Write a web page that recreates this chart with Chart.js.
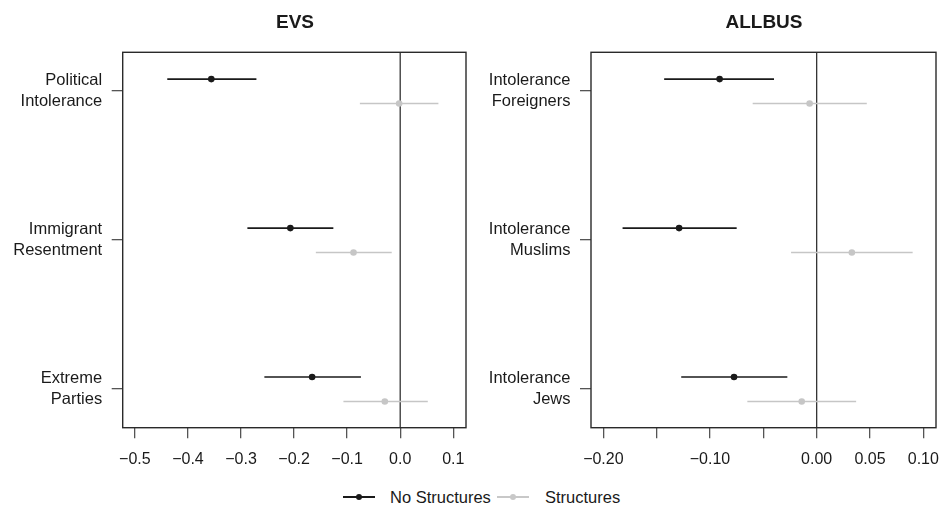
<!DOCTYPE html>
<html>
<head>
<meta charset="utf-8">
<script src="https://cdn.jsdelivr.net/npm/chart.js@4.4.1/dist/chart.umd.min.js"></script>
<style>
  body{margin:0;background:#fff;font-family:"Liberation Sans",Arial,sans-serif;}
  #wrap{position:relative;width:941px;height:510px;overflow:hidden;}
  .panel{position:absolute;top:0;height:480px;}
  .title{position:absolute;top:10px;height:24px;line-height:24px;font-weight:bold;font-size:19px;color:#1a1a1a;text-align:center;}
  #legend{position:absolute;top:486px;left:0;width:941px;height:22px;font-size:16.5px;color:#1a1a1a;}
  .key{position:absolute;top:10px;height:1.6px;width:32px;}
  .key i{position:absolute;left:13px;top:-2.4px;width:6.4px;height:6.4px;border-radius:50%;}
  .ktxt{position:absolute;top:0;line-height:22px;}
</style>
</head>
<body>
<div id="wrap">
  <div class="panel" style="left:0;width:470px;"><canvas id="evs"></canvas></div>
  <div class="panel" style="left:470px;width:471px;"><canvas id="allbus"></canvas></div>
  <div class="title" style="left:195px;width:200px;">EVS</div>
  <div class="title" style="left:664px;width:200px;">ALLBUS</div>
  <div id="legend">
    <div class="key" style="left:343px;background:#1a1a1a;"><i style="background:#1a1a1a;"></i></div>
    <div class="ktxt" style="left:390px;">No Structures</div>
    <div class="key" style="left:497px;background:#c8c8c8;"><i style="background:#c8c8c8;"></i></div>
    <div class="ktxt" style="left:545px;">Structures</div>
  </div>
</div>
<script>
// series names
const seriesNames = ["No Structures", "Structures"];

// EVS panel
const evsCats = [["Political","Intolerance"],["Immigrant","Resentment"],["Extreme","Parties"]];
const evsNoStruct   = [-0.356, -0.207, -0.166];
const evsNoStructLo = [-0.439, -0.288, -0.256];
const evsNoStructHi = [-0.271, -0.126, -0.074];
const evsStruct     = [-0.002, -0.088, -0.029];
const evsStructLo   = [-0.076, -0.159, -0.107];
const evsStructHi   = [ 0.072, -0.016,  0.052];
const evsTicks      = [-0.5, -0.4, -0.3, -0.2, -0.1, 0, 0.1];
const evsTickLabels = ["\u22120.5","\u22120.4","\u22120.3","\u22120.2","\u22120.1","0.0","0.1"];

// ALLBUS panel
const allbusCats = [["Intolerance","Foreigners"],["Intolerance","Muslims"],["Intolerance","Jews"]];
const allbusNoStruct   = [-0.091, -0.129, -0.0775];
const allbusNoStructLo = [-0.143, -0.182, -0.127];
const allbusNoStructHi = [-0.040, -0.075, -0.0275];
const allbusStruct     = [-0.0066, 0.033, -0.014];
const allbusStructLo   = [-0.060, -0.024, -0.065];
const allbusStructHi   = [ 0.047,  0.090,  0.037];
const allbusTicks      = [-0.2, -0.15, -0.1, -0.05, 0, 0.05, 0.1];
const allbusTickLabels = ["\u22120.20","","\u22120.10","","0.00","0.05","0.10"];

const BLACK = "#1a1a1a", GREY = "#c6c6c6";
const FONT = '"Liberation Sans", Arial, sans-serif';

// box round the plot and the zero line
const framePlugin = {
  id: "frame",
  beforeDatasetsDraw(chart){
    const {ctx, chartArea:a, scales} = chart;
    ctx.save();
    const x0 = scales.x.getPixelForValue(0);
    ctx.strokeStyle = "#333"; ctx.lineWidth = 1.3;
    ctx.beginPath(); ctx.moveTo(x0, a.top); ctx.lineTo(x0, a.bottom); ctx.stroke();
    ctx.strokeStyle = "#2a2a2a"; ctx.lineWidth = 1.4;
    ctx.strokeRect(a.left, a.top, a.right - a.left, a.bottom - a.top);
    ctx.restore();
  }
};

function makePanel(id, p){
  const n = p.cats.length;
  const pos = p.cats.map((c,i)=>n - i);
  const datasets = [];
  const ci = (lo, hi, off, col)=>lo.forEach((l,i)=>datasets.push({
    data:[{x:l, y:pos[i]+off},{x:hi[i], y:pos[i]+off}],
    showLine:true, borderColor:col, borderWidth:1.6, pointRadius:0, order:2
  }));
  ci(p.noLo, p.noHi, 0.08, BLACK);
  ci(p.stLo, p.stHi, -0.084, GREY);
  datasets.push({label:seriesNames[0], data:p.no.map((v,i)=>({x:v, y:pos[i]+0.08})),
    pointRadius:3.3, backgroundColor:BLACK, borderColor:BLACK, borderWidth:0, order:1});
  datasets.push({label:seriesNames[1], data:p.st.map((v,i)=>({x:v, y:pos[i]-0.084})),
    pointRadius:3.3, backgroundColor:GREY, borderColor:GREY, borderWidth:0, order:1});

  return new Chart(document.getElementById(id), {
    type:"scatter",
    data:{datasets},
    options:{
      responsive:true, maintainAspectRatio:false, animation:false,
      layout:{padding:{top:52.3, right:p.padRight, bottom:0, left:0}},
      plugins:{legend:{display:false}, tooltip:{enabled:false}},
      scales:{
        x:{
          min:p.xmin, max:p.xmax,
          afterBuildTicks:s=>{ s.ticks = p.ticks.map(v=>({value:v})); },
          afterFit:s=>{ s.height = 52.3; s.paddingLeft = 0; s.paddingRight = 0; },
          grid:{drawOnChartArea:false, drawTicks:true, tickLength:10.5, color:"#555", lineWidth:1.3},
          border:{display:false},
          ticks:{autoSkip:false, maxRotation:0, padding:12, color:"#1a1a1a",
            font:{family:FONT, size:16},
            callback:(v,i)=>p.tickLabels[i]}
        },
        y:{
          min:0.74, max:3.26,
          afterBuildTicks:s=>{ s.ticks = pos.map(v=>({value:v})); },
          afterFit:s=>{ s.width = p.yWidth; s.paddingTop = 0; s.paddingBottom = 0; },
          grid:{drawOnChartArea:false, drawTicks:true, tickLength:11, color:"#555", lineWidth:1.3},
          border:{display:false},
          ticks:{autoSkip:false, padding:9.5, color:"#1a1a1a",
            font:{family:FONT, size:16.5, lineHeight:1.27},
            callback:(v)=>p.cats[n - Math.round(v)]}
        }
      }
    },
    plugins:[framePlugin]
  });
}

makePanel("evs", {
  cats:evsCats, no:evsNoStruct, noLo:evsNoStructLo, noHi:evsNoStructHi,
  st:evsStruct, stLo:evsStructLo, stHi:evsStructHi,
  ticks:evsTicks, tickLabels:evsTickLabels,
  xmin:-0.523, xmax:0.124, yWidth:122.7, padRight:2.3
});
makePanel("allbus", {
  cats:allbusCats, no:allbusNoStruct, noLo:allbusNoStructLo, noHi:allbusNoStructHi,
  st:allbusStruct, stLo:allbusStructLo, stHi:allbusStructHi,
  ticks:allbusTicks, tickLabels:allbusTickLabels,
  xmin:-0.2116, xmax:0.1119, yWidth:121, padRight:5
});
</script>
</body>
</html>
